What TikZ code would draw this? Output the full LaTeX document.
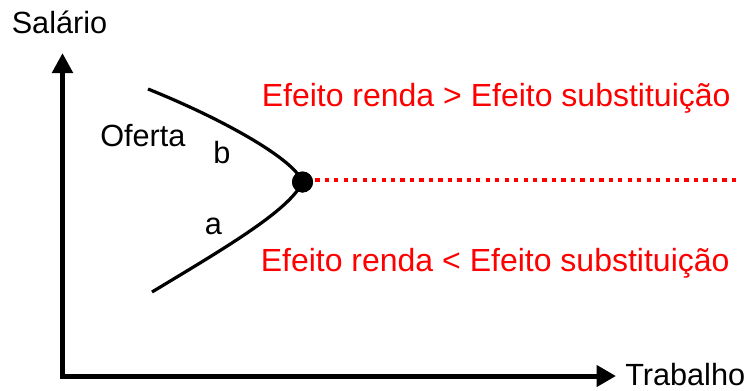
\documentclass[tikz,border=0pt]{standalone}
\usepackage{fontspec}
\setmainfont{Liberation Sans}
\usetikzlibrary{arrows.meta}
\definecolor{pured}{RGB}{255,0,0}
\tikzset{
  axis/.style={line width=3.75pt, line join=miter, {Triangle[length=15pt,width=15pt]}-{Triangle[length=14.5pt,width=15.5pt]}},
  curve/.style={line width=2.4pt},
  dotline/.style={pured, line width=2.5pt, dash pattern=on 3.2pt off 3.9pt},
  lbl/.style={anchor=base west, inner sep=0pt, font=\fontsize{23pt}{27pt}\selectfont},
  redlbl/.style={anchor=base west, inner sep=0pt, text=pured, font=\fontsize{24pt}{28pt}\selectfont},
  eqdot/.style={circle, fill=black, minimum size=15.75pt, inner sep=0pt}
}
\begin{document}
\begin{tikzpicture}[x=0.75pt, y=-0.75pt]
\useasboundingbox (0,0) rectangle (755,390);
% axes
\coordinate (ytop) at (62.5,53);
\coordinate (origin) at (62.5,376);
\coordinate (xend) at (616,376);
\draw[axis] (ytop) -- (origin) -- (xend);
% curve
\coordinate (ctop) at (148,89);
\coordinate (cbot) at (152,292);
\node[eqdot] (eq) at (302.5,182) {};
\draw[curve] (ctop) .. controls (225,120) and (295,160) .. (eq.center)
  .. controls (290,210) and (225,248) .. (cbot);
\node[eqdot] at (eq) {};
% dotted line
\coordinate (dend) at (739,180);
\draw[dotline] (eq.east |- dend) ++(2,0) -- (dend);
% labels
\node[lbl] (sal) at (11.5,33) {Salário};
\node[lbl] (trab) at (625,385) {Trabalho};
\node[lbl] (of) at (100,146) {Oferta};
\node[lbl] (lb) at (213,163) {b};
\node[lbl] (la) at (204.5,234) {a};
\node[redlbl] (up) at (261.5,106) {Efeito renda > Efeito substituição};
\node[redlbl] (dn) at (260.5,271) {Efeito renda < Efeito substituição};
\end{tikzpicture}
\end{document}
